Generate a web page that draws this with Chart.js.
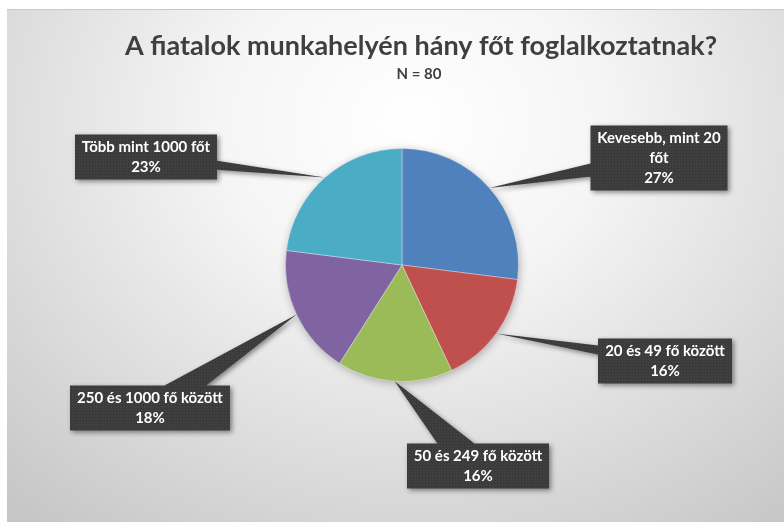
<!DOCTYPE html>
<html>
<head>
<meta charset="utf-8">
<script src="https://cdn.jsdelivr.net/npm/chart.js@4.4.1/dist/chart.umd.min.js"></script>
<style>
  html, body { margin: 0; padding: 0; background: #ffffff; }
  #frame {
    position: absolute; left: 7px; top: 9px; width: 777px; height: 513px;
    background: radial-gradient(ellipse 78% 100% at 52% 22%, #ffffff 0%, #f5f5f5 32%, #c6c6c6 100%);
    border-top: 1px solid #c9c9c9;
    box-sizing: border-box;
  }
  canvas { display: block; }
</style>
</head>
<body>
<div id="frame"><canvas id="chart" width="777" height="512"></canvas></div>
<script>
// Survey data (N = 80)
const categories = ['Kevesebb, mint 20 főt', '20 és 49 fő között', '50 és 249 fő között', '250 és 1000 fő között', 'Több mint 1000 főt'];
const shares = [27, 16, 16, 18, 23];
const sliceColors = ['#4F81BD', '#C0504D', '#9BBB59', '#8064A2', '#4BACC6'];
const titleText = 'A fiatalok munkahelyén hány főt foglalkoztatnak?';
const subtitleText = 'N = 80';

// callout box centres (canvas px) and max text width, one per slice
const calloutCenters = [[652, 148], [658, 351], [471, 456], [143, 398], [139, 147]];
const calloutWrap = [130, 200, 200, 200, 200];

// dotted dark texture for the callouts
function makePattern(ctx) {
    const p = document.createElement('canvas');
    p.width = 3; p.height = 3;
    const pc = p.getContext('2d');
    pc.fillStyle = '#3a3a3a';
    pc.fillRect(0, 0, 3, 3);
    pc.fillStyle = '#474747';
    pc.fillRect(0, 0, 1, 1);
    pc.fillRect(2, 1, 1, 1);
    return ctx.createPattern(p, 'repeat');
}

function wrap(ctx, text, maxW) {
    const words = text.split(' ');
    const lines = [];
    let cur = '';
    words.forEach(w => {
        const t = cur ? cur + ' ' + w : w;
        if (cur && ctx.measureText(t).width > maxW) { lines.push(cur); cur = w; }
        else cur = t;
    });
    if (cur) lines.push(cur);
    return lines;
}

const calloutPlugin = {
    id: 'callouts',
    beforeDatasetsDraw(chart) {
        const ctx = chart.ctx;
        ctx.save();
        ctx.shadowColor = 'rgba(0,0,0,0.28)';
        ctx.shadowBlur = 8;
        ctx.shadowOffsetX = 1;
        ctx.shadowOffsetY = 2;
        const a = chart.getDatasetMeta(0).data[0];
        ctx.beginPath();
        ctx.arc(a.x, a.y, a.outerRadius, 0, Math.PI * 2);
        ctx.fillStyle = '#bbbbbb';
        ctx.fill();
        ctx.restore();
    },
    afterDatasetsDraw(chart) {
        const ctx = chart.ctx;
        const pattern = makePattern(ctx);
        const meta = chart.getDatasetMeta(0);

        // titles
        ctx.save();
        ctx.fillStyle = '#3f3f3f';
        ctx.textAlign = 'center';
        ctx.textBaseline = 'alphabetic';
        ctx.font = 'bold 27px Lato';
        ctx.fillText(titleText, 414, 45);
        ctx.font = 'bold 15px Lato';
        ctx.fillText(subtitleText, 412, 69);
        ctx.restore();

        meta.data.forEach((arc, i) => {
            const p = arc.getProps(['x', 'y', 'startAngle', 'endAngle', 'outerRadius'], true);
            const mid = (p.startAngle + p.endAngle) / 2;
            const tx = p.x + Math.cos(mid) * p.outerRadius;
            const ty = p.y + Math.sin(mid) * p.outerRadius;

            ctx.save();
            ctx.font = 'bold 15px Lato';
            const lines = wrap(ctx, categories[i], calloutWrap[i]).concat([shares[i] + '%']);
            const tw = Math.max(...lines.map(l => ctx.measureText(l).width));
            const w = Math.round(tw + 14);
            const h = lines.length * 20 + 5;
            const [cx, cy] = calloutCenters[i];
            const L = cx - w / 2, T = cy - h / 2, R = L + w, B = T + h;

            // where the line from the box centre to the tip leaves the box
            const dx = tx - cx, dy = ty - cy;
            const tX = dx !== 0 ? (w / 2) / Math.abs(dx) : Infinity;
            const tY = dy !== 0 ? (h / 2) / Math.abs(dy) : Infinity;
            let b1, b2;
            if (tX < tY) {
                const ex = dx > 0 ? R : L;
                const ey = cy + dy * tX;
                const hw = h * 0.1;
                b1 = [ex, Math.max(T, ey - hw)]; b2 = [ex, Math.min(B, ey + hw)];
            } else {
                const ey = dy > 0 ? B : T;
                const ex = cx + dx * tY;
                const hw = w * 0.13;
                b1 = [Math.max(L, ex - hw), ey]; b2 = [Math.min(R, ex + hw), ey];
            }

            ctx.shadowColor = 'rgba(0,0,0,0.45)';
            ctx.shadowBlur = 5;
            ctx.shadowOffsetX = 2;
            ctx.shadowOffsetY = 2;
            ctx.fillStyle = pattern;
            ctx.beginPath();
            ctx.rect(L, T, w, h);
            ctx.moveTo(b1[0], b1[1]);
            ctx.lineTo(tx, ty);
            ctx.lineTo(b2[0], b2[1]);
            ctx.closePath();
            ctx.fill();

            ctx.shadowColor = 'transparent';
            ctx.fillStyle = '#ffffff';
            ctx.textAlign = 'center';
            ctx.textBaseline = 'middle';
            lines.forEach((l, k) => ctx.fillText(l, cx, T + 13 + k * 20));
            ctx.restore();
        });
    }
};

new Chart(document.getElementById('chart'), {
    type: 'pie',
    data: {
        labels: categories,
        datasets: [{
            data: shares,
            backgroundColor: sliceColors,
            borderColor: 'rgba(255,255,255,0.35)',
            borderWidth: 1
        }]
    },
    options: {
        responsive: false,
        animation: false,
        events: [],
        layout: { padding: { left: 278, right: 265, top: 138, bottom: 140 } },
        plugins: {
            legend: { display: false },
            tooltip: { enabled: false },
            title: { display: false }
        }
    },
    plugins: [calloutPlugin]
});
</script>
</body>
</html>
